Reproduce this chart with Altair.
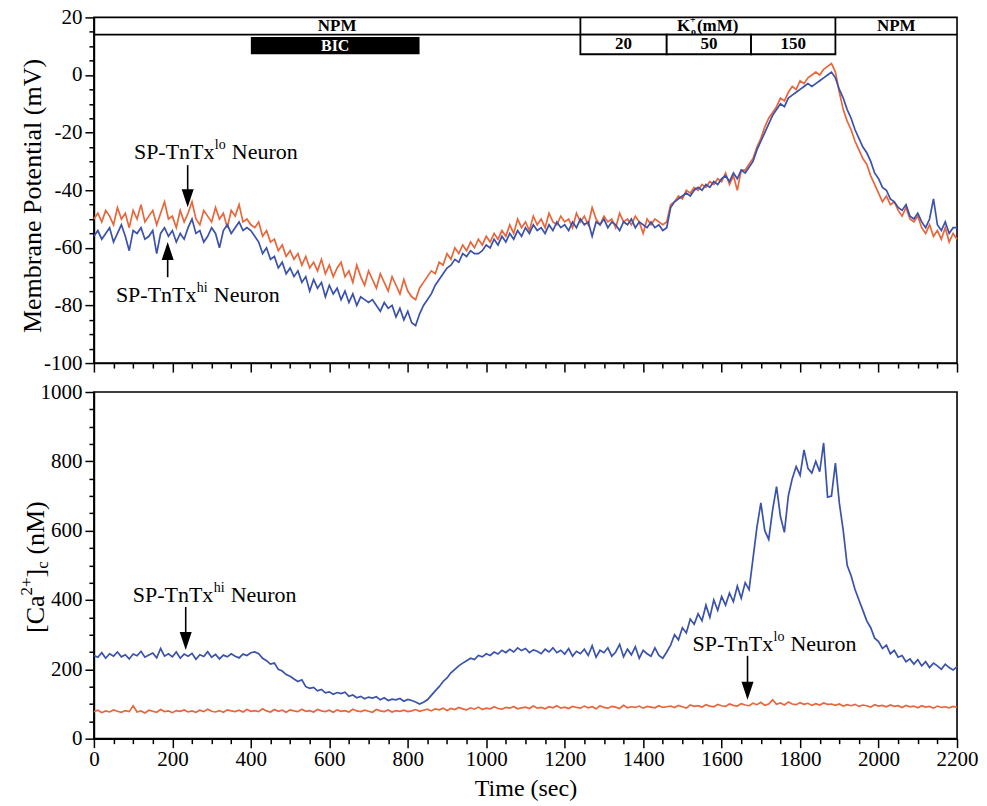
import altair as alt
import pandas as pd

STEP = 10  # sampling interval of the traces (s)

# ---------------- traces (one value every 10 s) ----------------
vm_lo = [
    -50, -48, -51, -47, -49, -52, -46, -50, -48, -53, -47, -50, -45, -51, -49, -47, -52, -48, -44, -50,
    -49, -53, -47, -51, -48, -44, -50, -52, -47, -49, -51, -46, -50, -48, -53, -47, -49, -45, -51, -50, -52,
    -53, -51, -56, -54, -58, -57, -61, -59, -63, -61, -64, -62, -66, -63, -67, -65, -68, -64, -69, -66,
    -70, -67, -65, -70, -68, -72, -66, -70, -73, -68, -71, -74, -69, -72, -75, -70, -73, -76, -71, -75,
    -77, -78, -74,
    -72, -70, -68, -69, -65, -66, -62, -64, -60, -62, -59, -61, -58, -60, -57, -59, -56, -58, -55, -57,
    -54, -56, -52, -55, -50, -53, -51, -54, -49, -52, -50, -53, -48, -51, -52, -49, -51, -50, -53, -48,
    -51, -49, -52, -46, -50, -52, -49, -51, -50, -53, -48, -51, -50, -52, -49, -51, -55, -50, -52, -50,
    -51, -52, -51,
    -45, -44, -42, -43, -40, -41, -39, -40, -38, -39, -37, -38, -36, -37, -34, -38, -35, -40, -33,
    -33, -31, -29, -25, -22, -18, -15, -13, -11, -8, -9, -6, -4, -5, -2, -3, -1, 0, 1, 0, 2, 3, 4,
    1, -6, -12, -16, -19, -23, -26, -29, -31, -35, -38, -41, -44, -42, -45, -44, -47, -49, -46, -50,
    -51, -49, -53, -55, -52, -56, -54, -57, -53, -58, -55, -57,
]
vm_hi = [
    -56, -54, -57, -55, -53, -58, -55, -52, -56, -61, -54, -55, -53, -57, -56, -54, -62, -55, -53, -56,
    -54, -58, -55, -57, -53, -50, -55, -54, -58, -56, -53, -55, -60, -54, -52, -55, -53, -51, -54, -53, -54,
    -56, -58, -62, -60, -64, -63, -67, -65, -69, -67, -70, -68, -72, -70, -75, -71, -74, -72, -77, -73,
    -76, -74, -78, -75, -79, -76, -80, -77, -78, -79, -78, -80, -82, -79, -81, -80, -84, -81, -85, -82,
    -86, -87, -83,
    -80, -78, -76, -73, -71, -69, -67, -66, -64, -65, -62, -63, -61, -62, -62, -61, -59, -60, -57, -59,
    -56, -58, -55, -57, -54, -56, -53, -55, -52, -54, -53, -55, -52, -54, -51, -53, -52, -54, -51, -53,
    -50, -52, -51, -56, -51, -52, -50, -53, -51, -52, -54, -51, -52, -50, -53, -51, -52, -53, -51, -53,
    -52, -54, -53,
    -46, -44, -43, -42, -41, -42, -40, -39, -40, -38, -39, -37, -38, -36, -35, -37, -34, -36, -33,
    -34, -32, -30, -26, -23, -20, -17, -14, -12, -10, -11, -8, -7, -6, -5, -4, -3, -4, -3, -2, -1, 0, 1,
    -1, -5, -8, -12, -15, -19, -22, -25, -27, -30, -34, -36, -39, -40, -43, -44, -46, -47, -45, -49,
    -50, -48, -51, -53, -50, -43, -52, -54, -51, -55, -53, -53,
]
ca_hi = [
    240, 235, 248, 232, 245, 238, 250, 236, 242, 230, 244, 239, 252, 235, 241, 247, 233, 260, 238, 245,
    236, 250, 232, 244, 238, 246, 229, 242, 237, 251, 235, 243, 230, 241, 236, 245, 238, 233, 244, 240, 248,
    250, 245, 232, 225, 215, 218, 200, 195, 185, 180, 172, 165, 170, 150, 145, 148, 138, 142, 132, 135,
    128, 133, 130, 134, 122, 126, 118, 122, 115, 120, 117, 121, 112, 118, 110, 114, 112, 116, 108, 113,
    110, 106, 100,
    105, 112, 125, 138, 150, 165, 175, 190, 200, 210, 218, 225, 232, 228, 240, 236, 245, 240, 250, 244,
    255, 248, 258, 250, 262, 254, 260, 248, 256, 252, 245, 258, 250, 262, 248, 255, 244, 260, 238, 252,
    245, 258, 240, 268, 235, 255, 248, 262, 238, 250, 272, 236, 258, 242, 265, 232, 255, 245, 238, 262,
    240, 232, 250,
    270, 300, 285, 320, 305, 345, 330, 360, 340, 385, 350, 400, 370, 410, 385, 420, 395, 440, 405, 450,
    430, 520, 610, 680, 600, 575, 660, 727, 640, 595, 700, 750, 785, 760, 833, 780, 766, 800, 770, 853,
    697, 700,
    795, 680, 600, 500, 470, 430, 400, 370, 340, 320, 290, 280, 260, 270, 245, 255, 235, 240, 222, 230,
    215, 228, 210, 222, 205, 218, 210, 200, 215, 205, 198, 208,
]
ca_lo = [
    78, 82, 75, 80, 77, 83, 79, 76, 81, 78, 95, 77, 80, 74, 82, 79, 76, 84, 78, 80,
    75, 81, 79, 83, 77, 80, 76, 82, 78, 85, 79, 77, 81, 76, 83, 80, 78, 82, 77, 84, 79,
    81, 78, 86, 80, 77, 84, 79, 82, 76, 83, 80, 78, 85, 79, 81, 77, 84, 80, 78, 82,
    76, 83, 79, 81, 77, 85, 80, 78, 82, 79, 76, 84, 80, 78, 83, 77, 81, 79, 82, 78,
    80, 84, 79,
    82, 85, 80, 86, 83, 88, 81, 87, 84, 90, 86, 83, 89, 85, 91, 84, 88, 86, 92, 87,
    85, 90, 88, 93, 86, 89, 91, 87, 94, 88, 90, 86, 92, 89, 95, 88, 91, 87, 93, 90,
    88, 94, 89, 92, 86, 95, 90, 88, 93, 91, 87, 96, 89, 92, 90, 94, 88, 93, 91, 89,
    95, 90, 92,
    94, 90, 96, 92, 88, 97, 93, 95, 91, 98, 94, 92, 99, 95, 93, 100, 96, 94, 101, 97,
    95, 102, 98, 105, 96, 100, 112, 99, 103, 97, 106, 100, 98, 104, 99, 102, 96, 101, 97, 103,
    99, 100,
    96, 100, 94, 98, 95, 99, 93, 97, 95, 91, 98, 94, 96, 92, 97, 93, 95, 90, 96, 92,
    94, 89, 95, 91, 93, 88, 94, 90, 92, 89, 93, 90,
]

# ---------------- axes ticks ----------------
x_major = list(range(0, 2201, 200))
x_minor = [v for v in range(0, 2201, 50) if v % 200]
vm_major = list(range(-100, 21, 20))
vm_minor = [v for v in range(-100, 21, 5) if v % 20]
ca_major = list(range(0, 1001, 200))
ca_minor = [v for v in range(0, 1001, 50) if v % 200]

# ---------------- protocol header (time in s, level in mV) ----------------
phase_names = ["NPM", "NPM"]
phase_centers = [620, 2045]
phase_separators = [1240, 1890]
k_edges = [1240, 1460, 1675, 1890]
k_labels = ["20", "50", "150"]
bic_span = [400, 830]
header_top, header_mid, header_low = 20, 14, 7.2
bic_levels = [7.2, 13.2]
k_title_x = 1565

# ---------------- annotations ----------------
top_label_x = [102, 56]
top_label_y = [-26.8, -76.4]
top_label_sup = ["lo", "hi"]
top_arrow_x = [239, 188]
top_arrow_tail = [-31.3, -70.2]
top_arrow_head = [-42.8, -61.1]
top_arrow_dir = ["down", "up"]

bot_label_x = [99, 1526]
bot_label_y = [415, 274]
bot_label_sup = ["hi", "lo"]
bot_arrow_x = [234, 1666]
bot_arrow_tail = [380, 239]
bot_arrow_head = [282, 138]
bot_arrow_dir = ["down", "down"]

ORANGE = "#E8663A"
BLUE = "#3A52AC"
FONT = "Liberation Serif, Times New Roman, DejaVu Serif, serif"
W, H_TOP, H_BOT = 864, 346, 347

xs = alt.Scale(domain=[0, 2200], nice=False, zero=False)
ys_vm = alt.Scale(domain=[-100, 20], nice=False, zero=False)
ys_ca = alt.Scale(domain=[0, 1000], nice=False, zero=False)
LABEL_EXPR = "'' + datum.value"

DOWN = "M -0.667 -1 L 0.667 -1 L 0 1 Z"
UP = "M -0.667 1 L 0.667 1 L 0 -1 Z"


def major_x(labels):
    if labels:
        return alt.Axis(orient="bottom", values=x_major, tickSize=9, labelPadding=1,
                        labelExpr=LABEL_EXPR, labelOverlap=False, labelFlush=False,
                        titlePadding=7)
    return alt.Axis(orient="bottom", values=x_major, tickSize=9, labels=False)


def minor_x():
    return alt.Axis(orient="bottom", values=x_minor, tickSize=5, labels=False, domain=False)


def major_y(vals):
    return alt.Axis(orient="left", values=vals, tickSize=9, labelPadding=3,
                    labelExpr=LABEL_EXPR, labelOverlap=False, labelFlush=False)


def minor_y(vals):
    return alt.Axis(orient="left", values=vals, tickSize=5, labels=False, domain=False)


def trace(values, color, ys, xaxis, yaxis, xtitle=None):
    df = pd.DataFrame({"t": [i * STEP for i in range(len(values))], "v": values})
    return alt.Chart(df).mark_line(color=color, strokeWidth=1.7).encode(
        x=alt.X("t:Q", scale=xs, axis=xaxis, title=xtitle),
        y=alt.Y("v:Q", scale=ys, axis=yaxis, title=None),
    )


def xy(ys):
    return dict(x=alt.X("x:Q", scale=xs, axis=None), y=alt.Y("y:Q", scale=ys, axis=None))


def neuron_labels(xv, yv, sup, ys):
    df = pd.DataFrame({"x": xv, "y": yv, "main": ["SP-TnTx"] * len(xv), "sup": sup,
                       "rest": ["Neuron"] * len(xv)})
    base = alt.Chart(df)
    common = dict(align="left", baseline="middle", font=FONT, color="black")
    return [
        base.mark_text(fontSize=22, **common).encode(text="main:N", **xy(ys)),
        base.mark_text(fontSize=14, dx=81, dy=-7, **common).encode(text="sup:N", **xy(ys)),
        base.mark_text(fontSize=22, dx=98, **common).encode(text="rest:N", **xy(ys)),
    ]


def arrows(xv, tail, head, dirs, ys):
    df = pd.DataFrame({"x": xv, "y": tail, "y2": head, "dir": dirs})
    shaft = alt.Chart(df).mark_rule(color="black", strokeWidth=1.6).encode(
        x=alt.X("x:Q", scale=xs, axis=None), y=alt.Y("y:Q", scale=ys, axis=None), y2="y2:Q")
    hd = alt.Chart(df).mark_point(filled=True, color="black", size=324, opacity=1).encode(
        x=alt.X("x:Q", scale=xs, axis=None), y=alt.Y("y2:Q", scale=ys, axis=None),
        shape=alt.Shape("dir:N", scale=alt.Scale(domain=["down", "up"], range=[DOWN, UP]),
                        legend=None))
    return [shaft, hd]


# ---------------- header layers ----------------
hdr_df = pd.DataFrame({"x": [0], "x2": [2200], "y": [header_mid]})
hdr_line = alt.Chart(hdr_df).mark_rule(color="black", strokeWidth=1.8).encode(
    x2="x2:Q", **xy(ys_vm))
sep_df = pd.DataFrame({"x": phase_separators, "y": [header_mid] * 2, "y2": [header_top] * 2})
sep = alt.Chart(sep_df).mark_rule(color="black", strokeWidth=1.8).encode(y2="y2:Q", **xy(ys_vm))
kb_df = pd.DataFrame({
    "x": k_edges[:-1], "x2": k_edges[1:],
    "y": [header_low] * 3, "y2": [header_mid] * 3,
    "xc": [(a + b) / 2 for a, b in zip(k_edges[:-1], k_edges[1:])],
    "yc": [(header_low + header_mid) / 2] * 3,
    "label": k_labels,
})
kbox = alt.Chart(kb_df).mark_rect(fill="white", stroke="black", strokeWidth=1.8).encode(
    x2="x2:Q", y2="y2:Q", **xy(ys_vm))
ktext = alt.Chart(kb_df).mark_text(font=FONT, fontSize=17, fontWeight="bold", color="black",
                                   baseline="middle").encode(
    x=alt.X("xc:Q", scale=xs, axis=None), y=alt.Y("yc:Q", scale=ys_vm, axis=None), text="label:N")
bic_df = pd.DataFrame({"x": [bic_span[0]], "x2": [bic_span[1]], "y": [bic_levels[0]],
                       "y2": [bic_levels[1]], "xc": [sum(bic_span) / 2],
                       "yc": [sum(bic_levels) / 2], "label": ["BIC"]})
bic = alt.Chart(bic_df).mark_rect(color="black").encode(x2="x2:Q", y2="y2:Q", **xy(ys_vm))
bic_text = alt.Chart(bic_df).mark_text(font=FONT, fontSize=16, fontWeight="bold", color="white",
                                       baseline="middle").encode(
    x=alt.X("xc:Q", scale=xs, axis=None), y=alt.Y("yc:Q", scale=ys_vm, axis=None), text="label:N")
ph_df = pd.DataFrame({"x": phase_centers, "y": [(header_top + header_mid) / 2] * 2,
                      "label": phase_names})
ph_text = alt.Chart(ph_df).mark_text(font=FONT, fontSize=17, fontWeight="bold", color="black",
                                     baseline="middle").encode(text="label:N", **xy(ys_vm))
kt_df = pd.DataFrame({"x": [k_title_x], "y": [(header_top + header_mid) / 2]})
kt_common = dict(font=FONT, fontWeight="bold", color="black", baseline="middle", align="left")
k_title = [
    alt.Chart(kt_df).mark_text(text="K", fontSize=17, dx=-31, **kt_common).encode(**xy(ys_vm)),
    alt.Chart(kt_df).mark_text(text="+", fontSize=10, dx=-18, dy=-6, **kt_common).encode(**xy(ys_vm)),
    alt.Chart(kt_df).mark_text(text="o", fontSize=10, dx=-17, dy=6, **kt_common).encode(**xy(ys_vm)),
    alt.Chart(kt_df).mark_text(text="(mM)", fontSize=17, dx=-11, **kt_common).encode(**xy(ys_vm)),
]

# ---------------- axis titles drawn as text ----------------
vm_title_df = pd.DataFrame({"y": [-42]})
vm_title = alt.Chart(vm_title_df).mark_text(
    text="Membrane Potential (mV)", font=FONT, fontSize=26, angle=270, align="center",
    baseline="middle", color="black").encode(
    x=alt.value(-61), y=alt.Y("y:Q", scale=ys_vm, axis=None))

ca_title_df = pd.DataFrame({"y": [305]})
ca_pieces = [("[Ca", 26, 0, 0), ("2+", 17, 37.5, -9), ("]", 26, 55.6, 0),
             ("c", 17, 64.3, 7), ("(nM)", 26, 78.4, 0)]
ca_title = [
    alt.Chart(ca_title_df).mark_text(text=t, font=FONT, fontSize=s, dx=dx, dy=dy, angle=270,
                                     align="left", baseline="middle", color="black").encode(
        x=alt.value(-58), y=alt.Y("y:Q", scale=ys_ca, axis=None))
    for t, s, dx, dy in ca_pieces
]

# ---------------- panels ----------------
top = alt.layer(
    trace(vm_lo, ORANGE, ys_vm, major_x(False), major_y(vm_major)),
    trace(vm_hi, BLUE, ys_vm, minor_x(), minor_y(vm_minor)),
    hdr_line, sep, kbox, ktext, bic, bic_text, ph_text, *k_title,
    *neuron_labels(top_label_x, top_label_y, top_label_sup, ys_vm),
    *arrows(top_arrow_x, top_arrow_tail, top_arrow_head, top_arrow_dir, ys_vm),
    vm_title,
).resolve_axis(x="independent", y="independent").properties(width=W, height=H_TOP)

bottom = alt.layer(
    trace(ca_lo, ORANGE, ys_ca, major_x(True), major_y(ca_major), "Time (sec)"),
    trace(ca_hi, BLUE, ys_ca, minor_x(), minor_y(ca_minor)),
    *neuron_labels(bot_label_x, bot_label_y, bot_label_sup, ys_ca),
    *arrows(bot_arrow_x, bot_arrow_tail, bot_arrow_head, bot_arrow_dir, ys_ca),
    *ca_title,
).resolve_axis(x="independent", y="independent").properties(width=W, height=H_BOT)

chart = alt.vconcat(top, bottom, spacing=29, bounds="flush").properties(
    padding={"left": 9, "top": -3, "right": 0, "bottom": 0}
).configure_view(
    stroke="black", strokeWidth=1.6
).configure_axis(
    domainColor="black", domainWidth=1.6, tickColor="black", tickWidth=1.5,
    labelFont=FONT, labelFontSize=21, labelColor="black",
    titleFont=FONT, titleFontSize=24, titleColor="black", titleFontWeight="normal",
    grid=False,
)

chart.save("out.html", embed_options={"renderer": "svg", "actions": False})
